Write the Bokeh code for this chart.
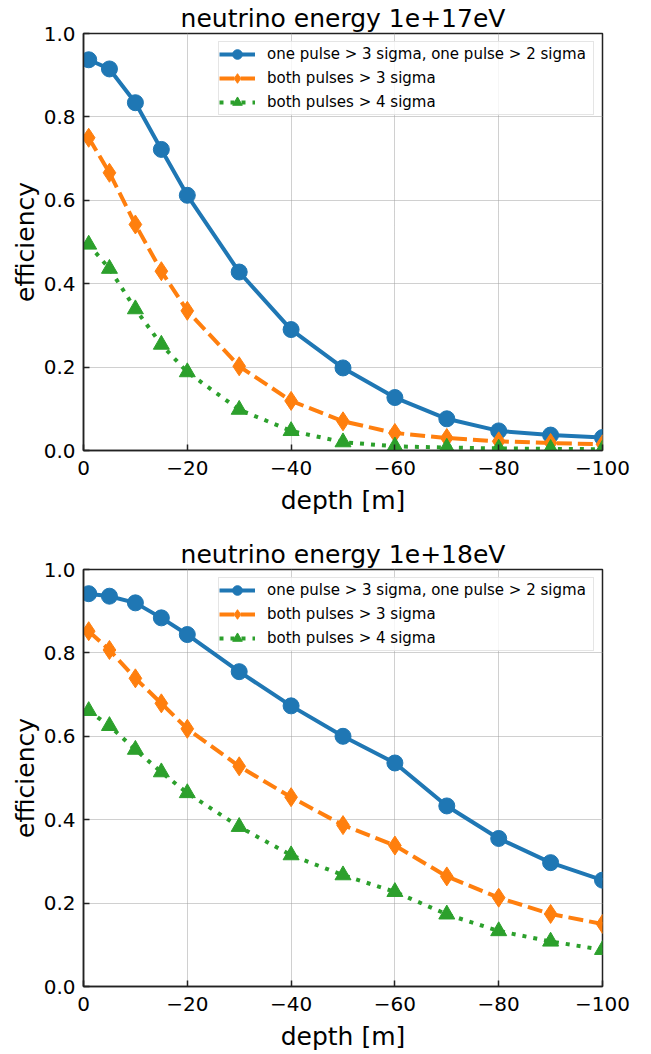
from bokeh.plotting import figure
from bokeh.layouts import column
from bokeh.models import Range1d, FixedTicker, Legend, LegendItem
from bokeh.embed import file_html
from bokeh.resources import INLINE

# ---------------- data ----------------
depth = [-1, -5, -10, -15, -20, -30, -40, -50, -60, -70, -80, -90, -100]

# neutrino energy 1e+17 eV
e17_one3_one2 = [0.937, 0.915, 0.834, 0.722, 0.612, 0.428, 0.290, 0.198, 0.127, 0.076, 0.047, 0.037, 0.031]
e17_both3 = [0.750, 0.666, 0.542, 0.430, 0.335, 0.202, 0.119, 0.070, 0.042, 0.030, 0.022, 0.018, 0.015]
e17_both4 = [0.494, 0.436, 0.339, 0.254, 0.188, 0.098, 0.047, 0.020, 0.010, 0.007, 0.005, 0.004, 0.003]

# neutrino energy 1e+18 eV
e18_one3_one2 = [0.942, 0.936, 0.920, 0.884, 0.844, 0.755, 0.673, 0.600, 0.536, 0.433, 0.355, 0.297, 0.255]
e18_both3 = [0.852, 0.807, 0.739, 0.679, 0.618, 0.528, 0.454, 0.387, 0.338, 0.264, 0.213, 0.174, 0.150]
e18_both4 = [0.661, 0.625, 0.568, 0.514, 0.464, 0.383, 0.315, 0.267, 0.227, 0.173, 0.133, 0.108, 0.088]

titles = ["neutrino energy 1e+17eV", "neutrino energy 1e+18eV"]
series_labels = ["one pulse > 3 sigma, one pulse > 2 sigma",
                 "both pulses > 3 sigma",
                 "both pulses > 4 sigma"]
x_ticks = [0, -20, -40, -60, -80, -100]
x_tick_labels = ["0", "\u221220", "\u221240", "\u221260", "\u221280", "\u2212100"]
y_ticks = [0.0, 0.2, 0.4, 0.6, 0.8, 1.0]
y_tick_labels = ["0.0", "0.2", "0.4", "0.6", "0.8", "1.0"]
x_label = "depth [m]"
y_label = "efficiency"

# ---------------- styles ----------------
colors = ["#1f77b4", "#ff7f0e", "#2ca02c"]
dashes = ["solid", "15 6", "4 7"]
markers = ["circle", "diamond", "triangle"]
marker_sizes = [16, 19, 16]
FONT = "DejaVu Sans"


def make_fig(title, series, min_bottom):
    p = figure(frame_width=519, frame_height=417,
               min_border_left=70, min_border_right=39,
               min_border_top=20, min_border_bottom=min_bottom,
               x_range=Range1d(0, -100), y_range=Range1d(0, 1),
               output_backend="svg", toolbar_location=None,
               title=title)
    p.margin = (0, 0, 0, 7)
    p.title.text_font = FONT
    p.title.text_font_size = "25px"
    p.title.text_font_style = "normal"
    p.title.align = "center"
    p.title.standoff = 2
    p.title.text_color = "black"

    p.outline_line_color = "#222222"
    p.outline_line_width = 1.5
    p.background_fill_color = "white"
    p.border_fill_color = "white"

    for ax in (p.xaxis[0], p.yaxis[0]):
        ax.axis_line_color = "#222222"
        ax.axis_line_width = 1.5
        ax.major_tick_in = 6
        ax.major_tick_out = 0
        ax.major_tick_line_width = 1.5
        ax.major_tick_line_color = "#222222"
        ax.minor_tick_line_color = None
        ax.major_label_text_font = FONT
        ax.major_label_text_font_size = "20px"
        ax.major_label_text_color = "black"
        ax.axis_label_text_font = FONT
        ax.axis_label_text_font_size = "25px"
        ax.axis_label_text_font_style = "normal"
        ax.axis_label_text_color = "black"

    p.xaxis[0].ticker = FixedTicker(ticks=x_ticks)
    p.xaxis[0].major_label_overrides = dict(zip(x_ticks, x_tick_labels))
    p.xaxis[0].major_label_standoff = 10
    p.xaxis[0].axis_label = x_label
    p.xaxis[0].axis_label_standoff = 8

    p.yaxis[0].ticker = FixedTicker(ticks=y_ticks)
    p.yaxis[0].major_label_overrides = dict(zip(y_ticks, y_tick_labels))
    p.yaxis[0].major_label_standoff = 8
    p.yaxis[0].axis_label = y_label
    p.yaxis[0].axis_label_standoff = 1

    for g in p.grid:
        g.grid_line_color = "#a0a0a0"
        g.grid_line_dash = "1 1"
        g.grid_line_width = 1

    items = []
    for vals, lab, col, dash, mk, ms in zip(series, series_labels, colors, dashes, markers, marker_sizes):
        r1 = p.line(depth, vals, line_color=col, line_width=4, line_dash=dash)
        r2 = p.scatter(depth, vals, marker=mk, size=ms, fill_color=col, line_color=col)
        items.append(LegendItem(label=lab, renderers=[r1, r2]))

    leg = Legend(items=items, location="top_right")
    leg.margin = 8
    leg.padding = 0
    leg.spacing = 0
    leg.glyph_width = 36
    leg.glyph_height = 24
    leg.label_height = 20
    leg.label_width = 326
    leg.label_standoff = 12
    leg.label_text_font = FONT
    leg.label_text_font_size = "15px"
    leg.label_text_color = "black"
    leg.border_line_color = "#cccccc"
    leg.border_line_width = 1
    leg.background_fill_color = "white"
    leg.background_fill_alpha = 0.8
    p.add_layout(leg, "center")
    return p


p1 = make_fig(titles[0], [e17_one3_one2, e17_both3, e17_both4], 86)
p2 = make_fig(titles[1], [e18_one3_one2, e18_both3, e18_both4], 58)

layout = column(p1, p2, spacing=0)
open("out.html", "w").write(file_html(layout, INLINE))
